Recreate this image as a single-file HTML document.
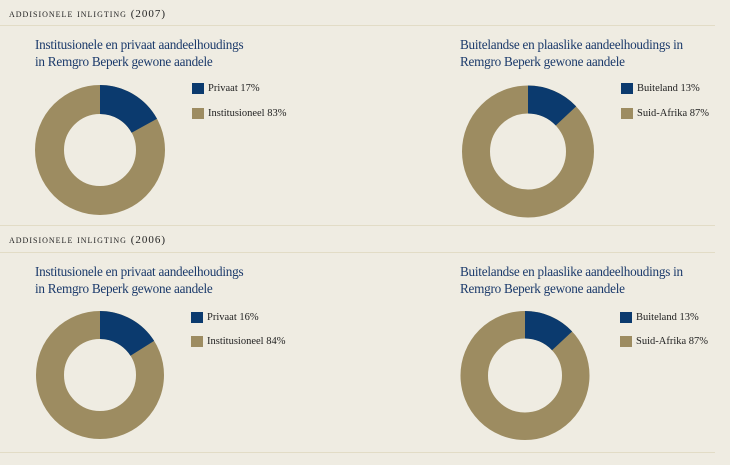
<!DOCTYPE html>
<html><head><meta charset="utf-8"><style>
body{margin:0;background:#efece2;width:730px;height:465px;overflow:hidden;position:relative;font-family:"Liberation Serif",serif}
.h{position:absolute;left:9px;font-size:11px;letter-spacing:1px;color:#222;font-variant:small-caps;text-transform:lowercase}
.rule{position:absolute;height:1px;background:#e2dcc6}
.t{position:absolute;font-size:13.2px;letter-spacing:-0.25px;line-height:17px;color:#1b3a6b}
.lg{position:absolute;font-size:10.5px;color:#222;line-height:12px}
.sq{position:absolute;width:12px;height:11px}
.n{background:#0b3a6e}.k{background:#9d8c61}
</style></head><body>
<div class="h" style="top:8px">ADDISIONELE INLIGTING (2007)</div>
<div class="rule" style="left:0;top:25px;width:715px"></div>
<div class="rule" style="left:0;top:225px;width:715px"></div>
<div class="h" style="top:234px">ADDISIONELE INLIGTING (2006)</div>
<div class="rule" style="left:0;top:252px;width:715px"></div>
<div class="rule" style="left:0;top:452px;width:715px"></div>

<div class="t" style="left:35px;top:36px">Institusionele en privaat aandeelhoudings<br>in Remgro Beperk gewone aandele</div>
<div class="t" style="left:460px;top:36px">Buitelandse en plaaslike aandeelhoudings in<br>Remgro Beperk gewone aandele</div>
<div class="t" style="left:35px;top:263px">Institusionele en privaat aandeelhoudings<br>in Remgro Beperk gewone aandele</div>
<div class="t" style="left:460px;top:263px">Buitelandse en plaaslike aandeelhoudings in<br>Remgro Beperk gewone aandele</div>

<div class="sq n" style="left:192px;top:83px"></div><div class="lg" style="left:208px;top:83px">Privaat 17%</div>
<div class="sq k" style="left:192px;top:108px"></div><div class="lg" style="left:208px;top:108px">Institusioneel 83%</div>
<div class="sq n" style="left:621px;top:83px"></div><div class="lg" style="left:637px;top:83px">Buiteland 13%</div>
<div class="sq k" style="left:621px;top:108px"></div><div class="lg" style="left:637px;top:108px">Suid-Afrika 87%</div>
<div class="sq n" style="left:191px;top:312px"></div><div class="lg" style="left:207px;top:312px">Privaat 16%</div>
<div class="sq k" style="left:191px;top:336px"></div><div class="lg" style="left:207px;top:336px">Institusioneel 84%</div>
<div class="sq n" style="left:620px;top:312px"></div><div class="lg" style="left:636px;top:312px">Buiteland 13%</div>
<div class="sq k" style="left:620px;top:336px"></div><div class="lg" style="left:636px;top:336px">Suid-Afrika 87%</div>

<svg width="730" height="465" style="position:absolute;left:0;top:0">
<g fill="none">
<circle cx="100" cy="150" r="50.5" stroke="#9d8c61" stroke-width="29"/>
<circle cx="100" cy="150" r="50.5" stroke="#0b3a6e" stroke-width="29" stroke-dasharray="53.9 400" transform="rotate(-90 100 150)"/>
<circle cx="528" cy="151.5" r="52" stroke="#9d8c61" stroke-width="28"/>
<circle cx="528" cy="151.5" r="52" stroke="#0b3a6e" stroke-width="28" stroke-dasharray="42.5 400" transform="rotate(-90 528 151.5)"/>
<circle cx="100" cy="375" r="50" stroke="#9d8c61" stroke-width="28"/>
<circle cx="100" cy="375" r="50" stroke="#0b3a6e" stroke-width="28" stroke-dasharray="50.3 400" transform="rotate(-90 100 375)"/>
<circle cx="525" cy="375.5" r="50.75" stroke="#9d8c61" stroke-width="27.5"/>
<circle cx="525" cy="375.5" r="50.75" stroke="#0b3a6e" stroke-width="27.5" stroke-dasharray="41.5 400" transform="rotate(-90 525 375.5)"/>
</g>
</svg>
</body></html>
